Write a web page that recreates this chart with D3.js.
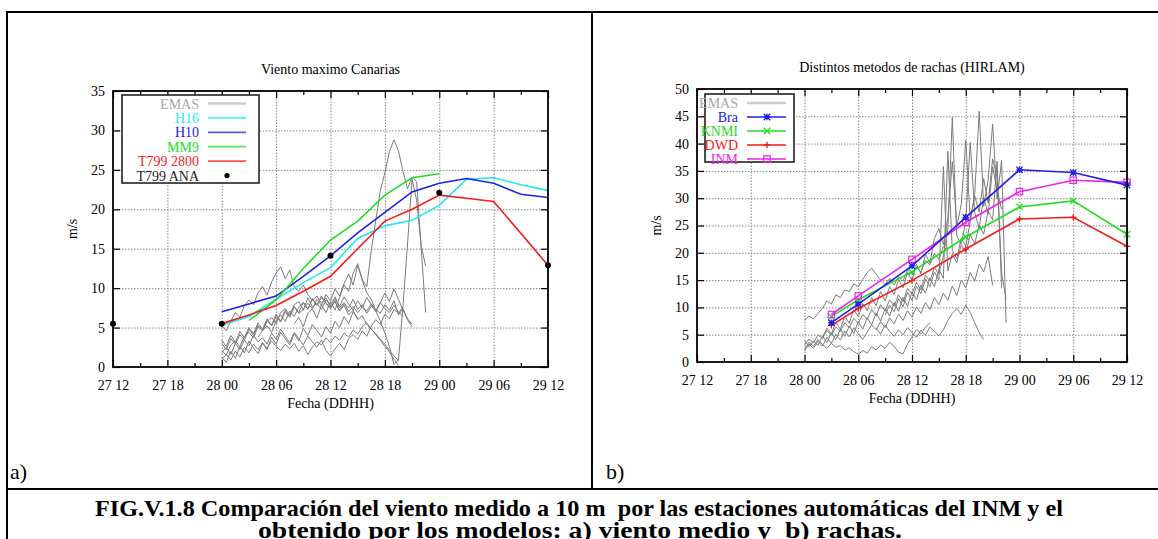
<!DOCTYPE html>
<html><head><meta charset="utf-8">
<script src="https://cdn.jsdelivr.net/npm/d3@7/dist/d3.min.js"></script>
<style>body{margin:0;background:#fff} svg text{font-family:"Liberation Serif","Times New Roman",Times,serif;}</style>
</head><body>
<svg id="c" width="1158" height="539"></svg>
<script>
// ---------------- DATA ----------------
// time axis: hours since day 27 12 UTC
const xTickHours = [0,6,12,18,24,30,36,42,48];
const xTickLabels = ["27 12","27 18","28 00","28 06","28 12","28 18","29 00","29 06","29 12"];
const xMinorHours = [3,9,15,21,27,33,39,45];
const leftYTicks = [0,5,10,15,20,25,30,35];
const rightYTicks = [0,5,10,15,20,25,30,35,40,45,50];

// chart a) Viento maximo Canarias
const modelHoursA = [12,15,18,21,24,27,30,33,36,39,42,45,48];
const h16 = [5.3,6.4,8.6,10.7,12.6,16.3,17.9,18.6,20.5,23.8,24.0,23.1,22.4];
const h10 = [7.0,8.0,9.0,11.5,14.1,17.0,19.6,22.2,23.3,23.9,23.3,21.9,21.5];
const mm9Hours = [15,18,21,24,27,30,33,36];
const mm9 = [5.9,8.5,12.5,16.1,18.5,21.8,24.0,24.5];
const t799Hours = [12,15,18,21,24,27,30,33,36,39,42,48];
const t799 = [5.5,6.6,7.8,9.6,11.5,15.0,18.5,20.0,21.8,21.4,21.0,12.9];
const anaHours = [0,12,24,36,48];
const ana = [5.5,5.5,14.1,22.1,12.9];

// EMAS stations (half-hourly), start hour of each record
const emasAStart = [12,12,12,12,12,12,20,12,16];
const emasAVals = [
 [5.2,4.6,5.8,6.9,6.3,7.8,8.5,7.9,9.4,10.2,9.1,10.8,11.9,12.7,11.2,12.3,10.1,9.6,10.4,9.2,8.4,9.0,8.1,8.8,7.6,8.3,7.2,8.0,7.5,8.6,7.3,7.9,6.8,7.7,7.1,8.2,7.4,6.9,7.8,7.0,6.4],
 [2.1,1.5,2.8,3.3,2.6,3.9,4.4,3.7,5.1,4.6,5.8,6.3,5.5,6.9,7.4,6.6,7.9,8.3,7.2,8.8,7.6,8.1,7.3,8.5,7.8,8.9,7.5,8.2,7.0,7.7,6.9,7.6,7.1,8.0,7.3,6.8,7.9,7.2,8.4,6.6,7.4,6.1,5.4],
 [1.0,1.6,0.9,2.0,1.3,2.5,1.8,2.9,2.2,3.1,2.4,3.3,2.6,2.1,2.9,2.3,3.0,2.0,2.7,1.6,2.5,3.2,2.8,3.7,3.1,3.9,3.4,4.3,3.8,4.7,4.2,5.1,5.6,4.8,4.1,3.4,2.6,1.9,1.0,0.2],
 [1.8,2.5,1.6,3.0,2.2,3.4,2.7,4.0,3.2,3.7,2.9,4.3,3.5,4.8,3.9,3.1,4.4,3.6,2.8,3.9,3.2,2.5,3.4,2.1,1.4,2.3,3.0,2.2,3.6,4.1,3.5,4.6,3.9,5.2,6.0,5.4,6.7,6.1,7.3,6.8,7.6],
 [3.0,2.2,3.6,2.9,4.1,3.4,4.8,4.0,5.3,4.6,5.9,5.2,6.4,5.7,7.0,6.3,7.6,6.9,8.2,7.4,8.6,7.9,8.8,8.1,7.5,8.3,7.1,7.8,6.6,7.2,6.0,6.5,5.4,4.8,4.2,3.5,2.9,2.1,1.4,0.8],
 [3.4,2.6,4.0,3.1,4.5,3.7,5.0,4.2,5.6,4.8,6.1,5.3,6.7,5.8,7.2,6.4,7.7,6.8,7.3,8.1,7.4,8.6,7.8,9.2,8.4,9.9,9.0,10.6,11.8,10.4,12.9,11.1,10.2,14.8,18.6,22.4,24.6,27.3,28.8,27.4,24.8,22.6,24.1,23.5,15.2,6.9],
 [5.5,6.3,5.1,6.8,7.4,6.2,7.9,6.9,8.3,7.2,8.8,10.4,9.6,11.9,13.1,11.0,9.4,8.6,7.1,5.8,4.3,2.6,0.3,0.9,7.8,15.6,23.8,21.2,15.4,12.8],
 [1.2,0.6,2.0,1.1,2.6,1.8,3.3,2.4,1.7,3.0,2.2,3.8,2.9,4.4,3.6,2.8,4.2,3.3,4.9,4.0,5.4,4.6,3.8,5.1,4.3,5.8,5.0,6.4,5.5,7.0,6.2],
 [3.8,4.6,5.2,4.4,5.9,6.6,5.8,7.1,6.4,7.6,8.2,7.3,8.7,7.8,9.0,8.1,7.4,8.6,7.7,8.9,8.0,7.2,8.4,7.5,8.8,7.9,7.0,8.1,9.4,8.3,9.9,8.6,7.2,6.0,5.1]
];

// chart b) Distintos metodos de rachas (HIRLAM)
const modelHoursB = [15,18,24,30,36,42,48];
const bra  = [7.2,10.6,17.6,26.5,35.2,34.7,32.4];
const knmi = [8.3,11.4,16.5,22.9,28.4,29.5,23.4];
const dwd  = [6.7,9.8,14.9,20.7,26.2,26.5,21.2];
const inm  = [8.7,12.1,18.8,25.6,31.2,33.3,32.9];

const emasBStart = [12,12,20,12,12,14,12,21];
const emasBVals = [
 [7.6,8.4,7.9,8.9,9.8,11.2,10.6,12.3,11.8,13.2,12.9,14.3,13.8,15.1,16.4,17.2,16.1,15.0,14.2,15.3,14.1,15.6,14.8,16.9,16.0,17.4,16.5,18.6,17.8,19.9,18.7,21.2,20.4],
 [2.4,3.6,2.9,4.1,3.2,2.5,3.4,2.7,3.0,2.2,2.6,1.9,1.4,2.1,1.6,2.8,2.2,3.1,2.5,3.6,2.9,1.8,1.5,3.3,4.6,5.9,5.1,6.4,7.2],
 [6.2,5.1,6.8,5.6,4.7,5.9,5.0,6.3,5.4,4.5,5.8,4.9,6.4,5.6,4.8,5.9,7.6,8.9,9.8,8.7,10.4,9.1,7.2,5.4,4.1],
 [3.1,4.2,3.5,5.0,4.3,5.8,4.9,6.4,5.6,7.2,6.3,8.0,7.1,8.7,7.8,9.6,8.4,10.5,9.3,11.4,10.2,12.3,11.0,13.5,12.4,14.6,13.2,15.9,14.8,17.3,16.1,19.4,24.3,44.8,23.1,21.6,25.8,40.2,27.4,24.5,30.2,27.1,35.8,31.4,28.0],
 [4.0,2.8,3.9,3.0,4.8,3.6,5.3,4.1,6.0,4.7,6.6,5.2,7.4,6.0,8.1,6.8,9.0,7.5,9.8,8.4,10.9,9.3,11.8,10.2,12.9,11.4,14.1,12.6,15.4,13.8,17.0,15.3,38.6,20.4,18.9,22.7,21.3,25.6,30.8,45.9,28.5,33.4,43.6,29.8,36.9,7.2],
 [4.6,6.2,5.1,7.3,6.0,8.4,7.1,9.6,8.3,10.7,9.4,11.8,10.3,12.9,11.2,13.8,12.4,15.1,13.6,16.4,15.0,17.9,16.2,19.8,18.1,22.6,24.4,21.5,26.3,36.7,24.8,28.9,40.6,26.2,30.4,27.5,33.6,29.1,37.2,34.0,16.3,11.5],
 [2.0,3.3,2.5,3.8,2.9,4.5,3.4,5.1,4.0,5.7,4.6,6.3,5.2,4.1,5.5,6.8,5.9,7.4,6.3,8.1,7.0,8.8,7.6,9.4,8.2,10.1,8.9,10.9,9.6,11.8,10.5,12.6,11.3,13.9,12.2,15.0,13.6,16.4,14.8,17.9,16.5,19.3,14.0],
 [8.6,10.4,9.2,11.6,10.1,12.8,11.3,13.9,12.5,15.2,13.8,16.5,15.0,35.8,16.7,19.8,18.2,21.5,20.0,23.3,21.7,25.1,23.4,27.6,26.0,36.8,13.5]
];
const emasStep = 0.5; // hours between EMAS records

const titleA = "Viento maximo Canarias";
const titleB = "Distintos metodos de rachas (HIRLAM)";
const xTitle = "Fecha (DDHH)";
const yTitle = "m/s";
const caption1 = "FIG.V.1.8 Comparación del viento medido a 10 m  por las estaciones automáticas del INM y el";
const caption2 = "obtenido por los modelos: a) viento medio y  b) rachas.";

// ---------------- DRAW ----------------
const FONT = "Liberation Serif, Times New Roman, Times, serif";
const svg = d3.select("#c");
const GRAY = "#7c7c7c";

function emasSeries(starts, vals){
  return vals.map((v,k)=>v.map((val,i)=>[starts[k]+i*emasStep, val]));
}

function drawFrame(g, x, y, yTicks){
  const [x0,x1] = x.range(), [y0,y1] = y.range();
  g.append("g").attr("transform",`translate(0,${y0})`)
    .call(d3.axisBottom(x).tickValues(xTickHours.slice(1,-1)).tickSize(-(y0-y1)).tickFormat(""))
    .call(a=>a.select(".domain").remove())
    .selectAll("line").attr("stroke","#888").attr("stroke-dasharray","1.5,1.5");
  g.append("g").attr("transform",`translate(${x0},0)`)
    .call(d3.axisLeft(y).tickValues(yTicks.slice(1,-1)).tickSize(-(x1-x0)).tickFormat(""))
    .call(a=>a.select(".domain").remove())
    .selectAll("line").attr("stroke","#888").attr("stroke-dasharray","1.5,1.5");
}

function drawAxes(g, x, y, yTicks){
  const [x0,x1] = x.range(), [y0,y1] = y.range();
  const style = a=>{a.attr("font-family",null); a.select(".domain").remove(); a.selectAll("line").attr("stroke","#000").attr("stroke-width",1.2);
    a.selectAll("text").attr("font-family",FONT).attr("font-size",14).attr("fill","#000");};
  g.append("g").attr("transform",`translate(0,${y0})`)
    .call(d3.axisBottom(x).tickValues(xTickHours).tickFormat((d,i)=>xTickLabels[i]).tickSizeInner(-7).tickSizeOuter(0).tickPadding(13)).call(style);
  g.append("g").attr("transform",`translate(0,${y0})`)
    .call(d3.axisBottom(x).tickValues(xMinorHours).tickFormat("").tickSizeInner(-4).tickSizeOuter(0)).call(style);
  g.append("g").attr("transform",`translate(0,${y1})`)
    .call(d3.axisTop(x).tickValues(xTickHours).tickFormat("").tickSizeInner(-7).tickSizeOuter(0)).call(style);
  g.append("g").attr("transform",`translate(0,${y1})`)
    .call(d3.axisTop(x).tickValues(xMinorHours).tickFormat("").tickSizeInner(-4).tickSizeOuter(0)).call(style);
  g.append("g").attr("transform",`translate(${x0},0)`)
    .call(d3.axisLeft(y).tickValues(yTicks).tickFormat(d3.format("d")).tickSizeInner(-7).tickSizeOuter(0).tickPadding(8)).call(style);
  g.append("g").attr("transform",`translate(${x1},0)`)
    .call(d3.axisRight(y).tickValues(yTicks).tickFormat("").tickSizeInner(-7).tickSizeOuter(0)).call(style);
  g.append("rect").attr("x",x0).attr("y",y1).attr("width",x1-x0).attr("height",y0-y1)
    .attr("fill","none").attr("stroke","#000").attr("stroke-width",1.8);
}

function drawTitles(g, x, y, title, yLabelX){
  const [x0,x1] = x.range(), [y0,y1] = y.range();
  const cx = (x0+x1)/2;
  g.append("text").attr("x",cx).attr("y",y1-17).attr("text-anchor","middle")
    .attr("font-family",FONT).attr("font-size",14).text(title);
  g.append("text").attr("x",cx).attr("y",y0+41).attr("text-anchor","middle")
    .attr("font-family",FONT).attr("font-size",14).text(xTitle);
  g.append("text").attr("transform",`translate(${yLabelX},${(y0+y1)/2}) rotate(-90)`).attr("text-anchor","middle")
    .attr("font-family",FONT).attr("font-size",14).text(yTitle);
}

function marker(g, type, cx, cy, color){
  const s = 3.2;
  if(type==="plus"||type==="star"){
    g.append("path").attr("d",`M${cx-s},${cy}H${cx+s}M${cx},${cy-s}V${cy+s}`).attr("stroke",color).attr("stroke-width",1.3);
  }
  if(type==="cross"||type==="star"){
    g.append("path").attr("d",`M${cx-s},${cy-s}L${cx+s},${cy+s}M${cx-s},${cy+s}L${cx+s},${cy-s}`).attr("stroke",color).attr("stroke-width",1.3);
  }
  if(type==="star"){
    g.append("rect").attr("x",cx-2).attr("y",cy-2).attr("width",4).attr("height",4).attr("fill",color);
  }
  if(type==="square"){
    g.append("rect").attr("x",cx-s).attr("y",cy-s).attr("width",2*s).attr("height",2*s).attr("fill","none").attr("stroke",color).attr("stroke-width",1.2);
  }
}

// ----- chart a -----
{
  const g = svg.append("g");
  const x = d3.scaleLinear().domain([0,48]).range([113,548]);
  const y = d3.scaleLinear().domain([0,35]).range([367,91]);
  drawFrame(g,x,y,leftYTicks);
  const line = d3.line().x(d=>x(d[0])).y(d=>y(d[1]));
  emasSeries(emasAStart, emasAVals).forEach(s=>{
    g.append("path").attr("d",line(s)).attr("fill","none").attr("stroke",GRAY).attr("stroke-width",1);
  });
  const models = [
    {name:"H16", hours:modelHoursA, vals:h16, color:"#22e8f0"},
    {name:"H10", hours:modelHoursA, vals:h10, color:"#2020e8"},
    {name:"MM9", hours:mm9Hours, vals:mm9, color:"#22dd22"},
    {name:"T799 2800", hours:t799Hours, vals:t799, color:"#f41c1c"}
  ];
  models.forEach(m=>{
    g.append("path").attr("d",line(m.hours.map((h,i)=>[h,m.vals[i]])))
      .attr("fill","none").attr("stroke",m.color).attr("stroke-width",1.6);
  });
  anaHours.forEach((h,i)=>{
    g.append("circle").attr("cx",x(h)).attr("cy",y(ana[i])).attr("r",3).attr("fill","#000");
  });
  drawAxes(g,x,y,leftYTicks);
  drawTitles(g,x,y,titleA,77);
  const lx = x.range()[0]+9, ly = y.range()[1]+4;
  const lg = g.append("g");
  lg.append("rect").attr("x",lx).attr("y",ly).attr("width",137).attr("height",88)
    .attr("fill","#fff").attr("stroke","#222").attr("stroke-width",1.6);
  const items = [{name:"EMAS",color:"#bdbdbd",text:"#a8a8a8",lw:2.4}].concat(models.map(m=>({name:m.name,color:m.color,text:m.color,lw:1.8})));
  items.push({name:"T799 ANA", text:"#222", dot:true});
  items.forEach((it,i)=>{
    const cy = ly+8.5+i*14.4;
    lg.append("text").attr("x",lx+77).attr("y",cy+5).attr("text-anchor","end")
      .attr("font-family",FONT).attr("font-size",14).attr("fill",it.text).text(it.name);
    if(it.dot) lg.append("circle").attr("cx",lx+105).attr("cy",cy).attr("r",2.6).attr("fill","#000");
    else lg.append("line").attr("x1",lx+86).attr("x2",lx+124).attr("y1",cy).attr("y2",cy)
      .attr("stroke",it.color).attr("stroke-width",it.lw).attr("opacity",0.75);
  });
}

// ----- chart b -----
{
  const g = svg.append("g");
  const x = d3.scaleLinear().domain([0,48]).range([697,1127]);
  const y = d3.scaleLinear().domain([0,50]).range([362,89]);
  drawFrame(g,x,y,rightYTicks);
  const line = d3.line().x(d=>x(d[0])).y(d=>y(d[1]));
  emasSeries(emasBStart, emasBVals).forEach(s=>{
    g.append("path").attr("d",line(s)).attr("fill","none").attr("stroke",GRAY).attr("stroke-width",1);
  });
  const models = [
    {name:"DWD", vals:dwd, color:"#f41c1c", mk:"plus"},
    {name:"KNMI", vals:knmi, color:"#22dd22", mk:"cross"},
    {name:"INM", vals:inm, color:"#f020f0", mk:"square"},
    {name:"Bra", vals:bra, color:"#2020e8", mk:"star"}
  ];
  models.forEach(m=>{
    g.append("path").attr("d",line(modelHoursB.map((h,i)=>[h,m.vals[i]])))
      .attr("fill","none").attr("stroke",m.color).attr("stroke-width",1.6);
    modelHoursB.forEach((h,i)=>marker(g,m.mk,x(h),y(m.vals[i]),m.color));
  });
  drawAxes(g,x,y,rightYTicks);
  drawTitles(g,x,y,titleB,661);
  const lx = x.range()[0]+8, ly = y.range()[1]+5;
  const lg = g.append("g");
  lg.append("rect").attr("x",lx).attr("y",ly).attr("width",89).attr("height",68)
    .attr("fill","#fff").attr("stroke","#222").attr("stroke-width",1.6);
  const order = ["Bra","KNMI","DWD","INM"].map(n=>models.find(m=>m.name===n));
  const items = [{name:"EMAS",color:"#bdbdbd",text:"#a8a8a8"}].concat(order.map(m=>({name:m.name,color:m.color,text:m.color,mk:m.mk})));
  items.forEach((it,i)=>{
    const cy = ly+9+i*14;
    lg.append("text").attr("x",lx+33).attr("y",cy+5).attr("text-anchor","end")
      .attr("font-family",FONT).attr("font-size",14).attr("fill",it.text).text(it.name);
    lg.append("line").attr("x1",lx+42).attr("x2",lx+81).attr("y1",cy).attr("y2",cy)
      .attr("stroke",it.color).attr("stroke-width",it.mk?1.8:2.4).attr("opacity",0.75);
    if(it.mk) marker(lg,it.mk,lx+62,cy,it.color);
  });
}

// ----- page frame and caption -----
{
  const f = svg.append("g").attr("stroke","#000").attr("stroke-width",2);
  f.append("line").attr("x1",6).attr("x2",1158).attr("y1",12).attr("y2",12);
  f.append("line").attr("x1",7).attr("x2",7).attr("y1",11).attr("y2",539);
  f.append("line").attr("x1",592).attr("x2",592).attr("y1",11).attr("y2",489);
  f.append("line").attr("x1",6).attr("x2",1158).attr("y1",489).attr("y2",489);
  svg.append("text").attr("x",10).attr("y",479).attr("font-family",FONT).attr("font-size",22).text("a)");
  svg.append("text").attr("x",606).attr("y",479).attr("font-family",FONT).attr("font-size",22).text("b)");
  svg.append("text").attr("x",95).attr("y",516).attr("font-family",FONT).attr("font-weight","bold")
    .attr("font-size",23).style("white-space","pre").attr("textLength",968).attr("lengthAdjust","spacingAndGlyphs").text(caption1);
  svg.append("text").attr("x",258).attr("y",538).attr("font-family",FONT).attr("font-weight","bold")
    .attr("font-size",23).style("white-space","pre").attr("textLength",644).attr("lengthAdjust","spacingAndGlyphs").text(caption2);
}
</script>
</body></html>
